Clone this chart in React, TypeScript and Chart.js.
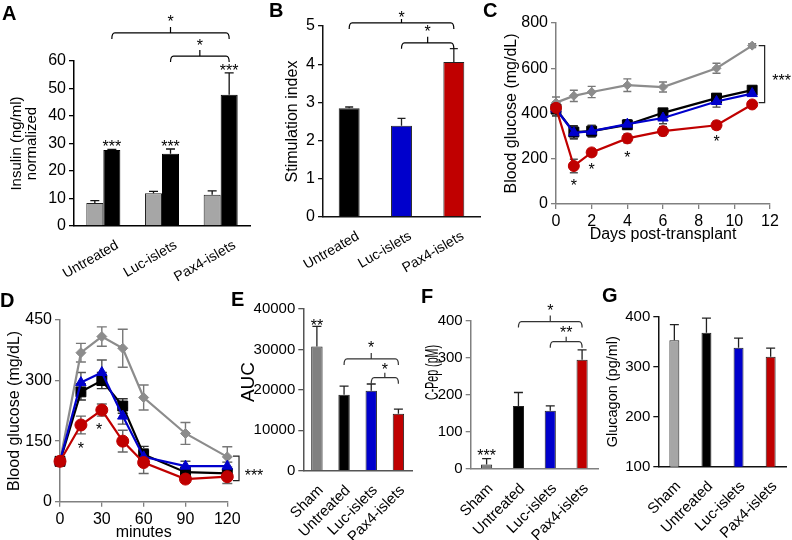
import React, { useEffect, useRef } from 'react';
import { Chart, registerables } from 'chart.js';

Chart.register(...registerables);

const FONT = '"Liberation Sans", Arial, Helvetica, sans-serif';

// ---------------- data ----------------
// Panel A – insulin secretion (low vs high glucose)
const groupsABC = ['Untreated', 'Luc-islets', 'Pax4-islets'];
const insulinLow = [8.4, 11.9, 11.4];
const insulinLowErr = [0.8, 0.7, 1.4];
const insulinHigh = [27.6, 26.3, 47.7];
const insulinHighErr = [0.3, 1.7, 8.0];
const insulinStars = ['***', '***', '***'];
const insulinBrackets = [
  { from: 0, to: 2, level: 70.2, label: '*', gap: 15, notch: 6 },
  { from: 1, to: 2, level: 61.8, label: '*', gap: 14, notch: 6 },
];

// Panel B – stimulation index
const stimIndex = [2.85, 2.39, 4.06];
const stimErr = [0.03, 0.19, 0.35];
const stimBrackets = [
  { from: 0, to: 2, level: 5.08, label: '*', gap: 9.5, notch: 4 },
  { from: 1, to: 2, level: 4.56, label: '*', gap: 15, notch: 6 },
];

// Panel C – blood glucose post-transplant
const daysPost = [0, 1, 2, 4, 6, 9, 11];
const shamC = [448, 478, 495, 525, 517, 600, 700];
const shamCErr = [25, 25, 25, 28, 22, 22, 8];
const untreatedC = [420, 318, 322, 350, 403, 468, 503];
const untreatedCErr = [30, 28, 25, 20, 15, 20, 10];
const lucC = [420, 315, 322, 353, 380, 453, 488];
const lucCErr = [30, 28, 25, 20, 25, 25, 10];
const pax4C = [425, 168, 228, 290, 322, 348, 440];
const pax4CErr = [25, 30, 15, 20, 20, 18, 12];
const starsC = [
  { x: 1, y: 97 },
  { x: 2, y: 168 },
  { x: 4, y: 221 },
  { x: 9, y: 291 },
];
const bracketC = { x: 11.7, y1: 700, y2: 448, label: '***' };

// Panel D – glucose tolerance test
const minutesD = [0, 15, 30, 45, 60, 90, 120];
const shamD = [100, 369, 409, 380, 258, 169, 111];
const shamDErr = [8, 23, 24, 47, 31, 27, 25];
const untreatedD = [100, 272, 300, 237, 117, 73, 70];
const untreatedDErr = [8, 20, 20, 18, 20, 15, 12];
const lucD = [100, 295, 320, 212, 111, 88, 88];
const lucDErr = [8, 25, 31, 20, 20, 12, 10];
const pax4D = [100, 190, 227, 150, 97, 56, 62];
const pax4DErr = [8, 22, 15, 27, 27, 8, 17];
const starsD = [
  { x: 15, y: 140 },
  { x: 28, y: 188 },
];
const bracketD = { x: 128.4, y1: 113, y2: 52, label: '***' };

// Panels E, F, G
const groupsEFG = ['Sham', 'Untreated', 'Luc-islets', 'Pax4-islets'];
const aucValues = [30700, 18800, 19800, 14100];
const aucErr = [5000, 2100, 1650, 1150];
const aucStars = ['**', '', '', ''];
const aucBrackets = [
  { from: 1, to: 3, level: 27650, label: '*', gap: 14.7, notch: 6 },
  { from: 2, to: 3, level: 23020, label: '*', gap: 11.7, notch: 5 },
];
const cpepValues = [12, 170, 157, 294];
const cpepErr = [16, 36, 13, 27];
const cpepStars = ['***', '', '', ''];
const cpepBrackets = [
  { from: 1, to: 3, level: 397, label: '*', gap: 14.4, notch: 6 },
  { from: 2, to: 3, level: 343, label: '**', gap: 12.7, notch: 5 },
];
const glucagonValues = [353, 368, 338, 320];
const glucagonErr = [31, 29, 19, 17];

// ---------------- colours ----------------
const LIGHT_GRAY = '#a6a6a6';
const MID_GRAY = '#808080';
const LINE_GRAY = '#8c8c8c';
const BLUE = '#0000cc';
const RED = '#c00000';
const BLACK = '#000000';

// ---------------- helpers ----------------
function drawErrorBars(chart: any, before: boolean) {
  const ctx = chart.ctx;
  chart.data.datasets.forEach((ds: any, i: number) => {
    if (!ds.errors || !!ds.errBefore !== before) return;
    const meta = chart.getDatasetMeta(i);
    const ys = chart.scales[meta.yAxisID];
    const cap = ds.errCap ?? 8;
    ctx.save();
    ctx.strokeStyle = ds.errColor ?? '#000';
    ctx.lineWidth = ds.errWidth ?? 1.3;
    meta.data.forEach((el: any, j: number) => {
      const raw = ds.data[j];
      const v = typeof raw === 'number' ? raw : raw.y;
      const e = ds.errors[j];
      const x = el.x;
      const top = ys.getPixelForValue(v + e);
      const bottom = ys.getPixelForValue(ds.errBoth ? v - e : v);
      ctx.beginPath();
      ctx.moveTo(x, top);
      ctx.lineTo(x, bottom);
      ctx.moveTo(x - cap / 2, top);
      ctx.lineTo(x + cap / 2, top);
      if (ds.errBoth) {
        ctx.moveTo(x - cap / 2, bottom);
        ctx.lineTo(x + cap / 2, bottom);
      }
      ctx.stroke();
    });
    ctx.restore();
  });
}

const errorBarPlugin = {
  id: 'errorBars',
  beforeDatasetsDraw(chart: any) {
    drawErrorBars(chart, true);
  },
  afterDatasetsDraw(chart: any) {
    drawErrorBars(chart, false);
  },
};

function star(ctx: CanvasRenderingContext2D, text: string, x: number, yc: number, size = 16, color = '#000') {
  if (!text) return;
  ctx.save();
  ctx.font = `${size}px ${FONT}`;
  ctx.fillStyle = color;
  ctx.textAlign = 'center';
  ctx.textBaseline = 'alphabetic';
  ctx.fillText(text, x, yc + 0.57 * size);
  ctx.restore();
}

function hBracket(ctx: CanvasRenderingContext2D, x1: number, x2: number, y: number, notch: number, color = '#000') {
  ctx.save();
  ctx.strokeStyle = color;
  ctx.lineWidth = 1.2;
  ctx.beginPath();
  ctx.moveTo(x1, y + 6);
  ctx.quadraticCurveTo(x1, y, x1 + 3, y);
  ctx.lineTo(x2 - 3, y);
  ctx.quadraticCurveTo(x2, y, x2, y + 6);
  const xm = (x1 + x2) / 2;
  ctx.moveTo(xm, y);
  ctx.lineTo(xm, y - notch);
  ctx.stroke();
  ctx.restore();
}

function vBracket(ctx: CanvasRenderingContext2D, x: number, y1: number, y2: number, color = '#000') {
  ctx.save();
  ctx.strokeStyle = color;
  ctx.lineWidth = 1.2;
  ctx.beginPath();
  ctx.moveTo(x - 6, y1);
  ctx.lineTo(x, y1);
  ctx.lineTo(x, y2);
  ctx.lineTo(x - 6, y2);
  ctx.stroke();
  ctx.restore();
}

function rotatedTitle(ctx: CanvasRenderingContext2D, text: string, x: number, y: number, size: number, squeeze: number) {
  ctx.save();
  ctx.translate(x, y);
  ctx.rotate(-Math.PI / 2);
  ctx.scale(squeeze, 1);
  ctx.font = `${size}px ${FONT}`;
  ctx.fillStyle = '#000';
  ctx.textAlign = 'center';
  ctx.textBaseline = 'middle';
  ctx.fillText(text, 0, 0);
  ctx.restore();
}

function annot(id: string, fn: (chart: any, ctx: CanvasRenderingContext2D) => void) {
  return {
    id,
    afterDraw(chart: any) {
      fn(chart, chart.ctx);
    },
  };
}

const plainTick = (v: any) => String(v);

function yAxis(o: {
  min: number;
  max: number;
  step: number;
  width: number;
  color: string;
  tickSize: number;
  title?: string | string[];
  titleSize?: number;
  titleLH?: number;
}) {
  return {
    type: 'linear',
    position: 'left',
    min: o.min,
    max: o.max,
    ticks: { stepSize: o.step, font: { family: FONT, size: o.tickSize }, color: '#000', padding: 3, callback: plainTick },
    grid: { drawOnChartArea: false, drawTicks: true, tickLength: 5, color: o.color, lineWidth: 1.3 },
    border: { display: true, color: o.color, width: 1.5 },
    title: {
      display: !!o.title,
      text: o.title ?? '',
      font: { family: FONT, size: o.titleSize ?? 16, lineHeight: o.titleLH ?? 1.2 },
      color: '#000',
      padding: 0,
    },
    afterFit: (s: any) => {
      s.width = o.width;
    },
  };
}

function catAxis(o: { height: number; color: string; size: number; rotation: number; labelOffset: number }) {
  return {
    type: 'category',
    grid: { display: false },
    border: { display: true, color: o.color, width: 1.5 },
    ticks: {
      font: { family: FONT, size: o.size },
      color: '#000',
      minRotation: o.rotation,
      maxRotation: o.rotation,
      autoSkip: false,
      padding: 3,
      labelOffset: o.labelOffset,
    },
    afterFit: (s: any) => {
      s.height = o.height;
    },
  };
}

function linAxisX(o: { min: number; max: number; step: number; height: number; color: string; title: string }) {
  return {
    type: 'linear',
    min: o.min,
    max: o.max,
    ticks: { stepSize: o.step, font: { family: FONT, size: 16 }, color: '#000', padding: 3, callback: plainTick },
    grid: { drawOnChartArea: false, drawTicks: true, tickLength: 5, color: o.color, lineWidth: 1.3 },
    border: { display: true, color: o.color, width: 1.5 },
    title: { display: true, text: o.title, font: { family: FONT, size: 16, lineHeight: 1.2 }, color: '#000', padding: 0 },
    afterFit: (s: any) => {
      s.height = o.height;
    },
  };
}

function baseOptions(padding: any, scales: any) {
  return {
    responsive: false,
    maintainAspectRatio: false,
    animation: false,
    events: [],
    layout: { padding },
    plugins: { legend: { display: false }, tooltip: { enabled: false }, title: { display: false } },
    scales,
  };
}

function lineDataset(xs: number[], ys: number[], errs: number[], o: any) {
  return {
    type: 'line',
    data: xs.map((x, i) => ({ x, y: ys[i] })),
    borderColor: o.color,
    backgroundColor: o.color,
    borderWidth: 2.2,
    pointStyle: o.pointStyle,
    pointRadius: o.radius,
    pointBackgroundColor: o.color,
    pointBorderColor: o.color,
    pointBorderWidth: 1,
    tension: 0,
    clip: false,
    order: o.order,
    errors: errs,
    errBoth: true,
    errBefore: true,
    errColor: o.errColor,
    errCap: o.cap,
    errWidth: 1.4,
  };
}

// ---------------- chart configs ----------------
function configA() {
  return {
    type: 'bar',
    data: {
      labels: groupsABC,
      datasets: [
        {
          data: insulinLow,
          backgroundColor: LIGHT_GRAY,
          borderColor: '#222',
          borderWidth: 1,
          errors: insulinLowErr,
          errColor: '#111',
          errCap: 9,
        },
        {
          data: insulinHigh,
          backgroundColor: BLACK,
          borderColor: BLACK,
          borderWidth: 1,
          errors: insulinHighErr,
          errColor: '#111',
          errCap: 9,
        },
      ],
    },
    options: {
      ...baseOptions({ left: 9.5, right: 5, top: 61, bottom: 0 }, {
        x: catAxis({ height: 64, color: '#000', size: 14, rotation: 30, labelOffset: 14 }),
        y: yAxis({
          min: 0, max: 60, step: 10, width: 64.5, color: '#000', tickSize: 16,
          title: ['Insulin (ng/ml)', 'normalized'], titleSize: 15, titleLH: 1.0,
        }),
      }),
      datasets: { bar: { categoryPercentage: 0.58, barPercentage: 1.0 } },
    },
    plugins: [
      errorBarPlugin,
      annot('annotA', (chart, ctx) => {
        const y = chart.scales.y;
        const black = chart.getDatasetMeta(1).data;
        insulinStars.forEach((s, i) => {
          star(ctx, s, black[i].x, y.getPixelForValue(insulinHigh[i] + insulinHighErr[i]) - 6);
        });
        insulinBrackets.forEach((b) => {
          const yy = y.getPixelForValue(b.level);
          hBracket(ctx, black[b.from].x, black[b.to].x, yy, b.notch);
          star(ctx, b.label, (black[b.from].x + black[b.to].x) / 2, yy - b.gap);
        });
      }),
    ],
  };
}

function configB() {
  return {
    type: 'bar',
    data: {
      labels: groupsABC,
      datasets: [
        {
          data: stimIndex,
          backgroundColor: [BLACK, BLUE, RED],
          borderColor: '#222',
          borderWidth: 1,
          errors: stimErr,
          errColor: '#222',
          errCap: 8,
        },
      ],
    },
    options: {
      ...baseOptions({ left: 28.4, right: 25, top: 26, bottom: 0 }, {
        x: catAxis({ height: 73, color: '#111', size: 14, rotation: 30, labelOffset: 9 }),
        y: yAxis({ min: 0, max: 5, step: 1, width: 39.6, color: '#111', tickSize: 16, title: 'Stimulation index', titleSize: 16 }),
      }),
      datasets: { bar: { categoryPercentage: 1.0, barPercentage: 0.4 } },
    },
    plugins: [
      errorBarPlugin,
      annot('annotB', (chart, ctx) => {
        const y = chart.scales.y;
        const bars = chart.getDatasetMeta(0).data;
        stimBrackets.forEach((b) => {
          const yy = y.getPixelForValue(b.level);
          hBracket(ctx, bars[b.from].x, bars[b.to].x, yy, b.notch);
          star(ctx, b.label, (bars[b.from].x + bars[b.to].x) / 2, yy - b.gap);
        });
      }),
    ],
  };
}

function configC() {
  return {
    type: 'line',
    data: {
      datasets: [
        lineDataset(daysPost, shamC, shamCErr, { color: LINE_GRAY, pointStyle: 'rectRot', radius: 4.5, order: 4, errColor: '#777', cap: 8 }),
        lineDataset(daysPost, untreatedC, untreatedCErr, { color: BLACK, pointStyle: 'rect', radius: 7, order: 3, errColor: '#222', cap: 8 }),
        lineDataset(daysPost, lucC, lucCErr, { color: BLUE, pointStyle: 'triangle', radius: 6, order: 2, errColor: '#444', cap: 8 }),
        lineDataset(daysPost, pax4C, pax4CErr, { color: RED, pointStyle: 'circle', radius: 5.5, order: 1, errColor: '#555', cap: 8 }),
      ],
    },
    options: baseOptions({ left: 7.4, right: 22, top: 23, bottom: 45.4 }, {
      x: linAxisX({ min: 0, max: 12, step: 2, height: 40.6, color: MID_GRAY, title: 'Days post-transplant' }),
      y: yAxis({ min: 0, max: 800, step: 200, width: 53.6, color: MID_GRAY, tickSize: 16, title: 'Blood glucose (mg/dL)', titleSize: 16 }),
    }),
    plugins: [
      errorBarPlugin,
      annot('annotC', (chart, ctx) => {
        const xs = chart.scales.x;
        const ys = chart.scales.y;
        starsC.forEach((s) => star(ctx, '*', xs.getPixelForValue(s.x), ys.getPixelForValue(s.y)));
        const bx = xs.getPixelForValue(bracketC.x);
        const y1 = ys.getPixelForValue(bracketC.y1);
        const y2 = ys.getPixelForValue(bracketC.y2);
        vBracket(ctx, bx, y1, y2, '#222');
        star(ctx, bracketC.label, bx + 17, (y1 + y2) / 2 + 3);
      }),
    ],
  };
}

function configD() {
  return {
    type: 'line',
    data: {
      datasets: [
        lineDataset(minutesD, shamD, shamDErr, { color: LINE_GRAY, pointStyle: 'rectRot', radius: 5, order: 4, errColor: '#777', cap: 10 }),
        lineDataset(minutesD, untreatedD, untreatedDErr, { color: BLACK, pointStyle: 'rect', radius: 7, order: 3, errColor: '#333', cap: 10 }),
        lineDataset(minutesD, lucD, lucDErr, { color: BLUE, pointStyle: 'triangle', radius: 6, order: 2, errColor: '#555', cap: 10 }),
        lineDataset(minutesD, pax4D, pax4DErr, { color: RED, pointStyle: 'circle', radius: 6, order: 1, errColor: '#666', cap: 10 }),
      ],
    },
    options: baseOptions({ left: 5.4, right: 37.7, top: 40, bottom: 1.4 }, {
      x: linAxisX({ min: 0, max: 120, step: 30, height: 40.9, color: MID_GRAY, title: 'minutes' }),
      y: yAxis({ min: 0, max: 450, step: 150, width: 54.6, color: MID_GRAY, tickSize: 16, title: 'Blood glucose (mg/dL)', titleSize: 16 }),
    }),
    plugins: [
      errorBarPlugin,
      annot('annotD', (chart, ctx) => {
        const xs = chart.scales.x;
        const ys = chart.scales.y;
        starsD.forEach((s) => star(ctx, '*', xs.getPixelForValue(s.x), ys.getPixelForValue(s.y)));
        const bx = xs.getPixelForValue(bracketD.x);
        const y1 = ys.getPixelForValue(bracketD.y1);
        const y2 = ys.getPixelForValue(bracketD.y2);
        vBracket(ctx, bx, y1, y2, '#222');
        star(ctx, bracketD.label, bx + 15, (y1 + y2) / 2 + 3);
      }),
    ],
  };
}

function groupBarConfig(o: {
  values: number[];
  errs: number[];
  colors: string[];
  padding: any;
  yMin: number;
  yMax: number;
  yStep: number;
  yWidth: number;
  xHeight: number;
  axisColor: string;
  title?: string;
  titleSize?: number;
  barPct: number;
  stars?: string[];
  starOffset?: number;
  brackets?: { from: number; to: number; level: number; label: string; gap: number; notch: number }[];
  extra?: (chart: any, ctx: CanvasRenderingContext2D) => void;
  id: string;
}) {
  return {
    type: 'bar',
    data: {
      labels: groupsEFG,
      datasets: [
        {
          data: o.values,
          backgroundColor: o.colors,
          borderColor: '#222',
          borderWidth: 1,
          errors: o.errs,
          errColor: '#222',
          errCap: 9,
        },
      ],
    },
    options: {
      ...baseOptions(o.padding, {
        x: catAxis({ height: o.xHeight, color: o.axisColor, size: 15, rotation: 45, labelOffset: 4 }),
        y: yAxis({
          min: o.yMin, max: o.yMax, step: o.yStep, width: o.yWidth, color: o.axisColor, tickSize: 15,
          title: o.title, titleSize: o.titleSize,
        }),
      }),
      datasets: { bar: { categoryPercentage: 1.0, barPercentage: o.barPct } },
    },
    plugins: [
      errorBarPlugin,
      annot(o.id, (chart, ctx) => {
        const y = chart.scales.y;
        const bars = chart.getDatasetMeta(0).data;
        (o.stars ?? []).forEach((s, i) => {
          star(ctx, s, bars[i].x, y.getPixelForValue(o.values[i] + o.errs[i]) - (o.starOffset ?? 6));
        });
        (o.brackets ?? []).forEach((b) => {
          const yy = y.getPixelForValue(b.level);
          hBracket(ctx, bars[b.from].x, bars[b.to].x, yy, b.notch, '#333');
          star(ctx, b.label, (bars[b.from].x + bars[b.to].x) / 2, yy - b.gap);
        });
        if (o.extra) o.extra(chart, ctx);
      }),
    ],
  };
}

function configE() {
  return groupBarConfig({
    id: 'annotE',
    values: aucValues,
    errs: aucErr,
    colors: [MID_GRAY, BLACK, BLUE, RED],
    padding: { left: 0, right: 3, top: 29, bottom: 0 },
    yMin: 0,
    yMax: 40000,
    yStep: 10000,
    yWidth: 78.3,
    xHeight: 71.3,
    axisColor: '#555',
    barPct: 0.42,
    stars: aucStars,
    starOffset: 5,
    brackets: aucBrackets,
    extra: (chart, ctx) => {
      const ca = chart.chartArea;
      rotatedTitle(ctx, 'AUC', ca.left - 55, ca.top + 73, 19, 1);
    },
  });
}

function configF() {
  return groupBarConfig({
    id: 'annotF',
    values: cpepValues,
    errs: cpepErr,
    colors: [MID_GRAY, BLACK, BLUE, RED],
    padding: { left: 0, right: 7, top: 40.5, bottom: 0 },
    yMin: 0,
    yMax: 400,
    yStep: 100,
    yWidth: 60.7,
    xHeight: 73,
    axisColor: MID_GRAY,
    barPct: 0.35,
    stars: cpepStars,
    starOffset: 7,
    brackets: cpepBrackets,
    extra: (chart, ctx) => {
      const ca = chart.chartArea;
      rotatedTitle(ctx, 'C-Pep (pM)', ca.left - 38, ca.top + 52, 19, 0.56);
    },
  });
}

function configG() {
  return groupBarConfig({
    id: 'annotG',
    values: glucagonValues,
    errs: glucagonErr,
    colors: [LIGHT_GRAY, BLACK, BLUE, RED],
    padding: { left: 4.6, right: 5.3, top: 36.7, bottom: 0 },
    yMin: 100,
    yMax: 400,
    yStep: 100,
    yWidth: 53.7,
    xHeight: 75.3,
    axisColor: '#111',
    title: 'Glucagon (pg/ml)',
    titleSize: 14.5,
    barPct: 0.31,
  });
}

// ---------------- components ----------------
function Panel(props: { left: number; top: number; width: number; height: number; make: () => any }) {
  const ref = useRef<HTMLCanvasElement>(null);
  useEffect(() => {
    const chart = new Chart(ref.current as HTMLCanvasElement, props.make());
    return () => chart.destroy();
  }, []);
  return (
    <canvas
      ref={ref}
      width={props.width}
      height={props.height}
      style={{ position: 'absolute', left: props.left, top: props.top, width: props.width, height: props.height }}
    />
  );
}

function Letter(props: { text: string; left: number; top: number }) {
  return (
    <div
      style={{
        position: 'absolute',
        left: props.left,
        top: props.top,
        font: `bold 20px ${FONT}`,
        lineHeight: '20px',
        color: '#000',
      }}
    >
      {props.text}
    </div>
  );
}

export default function App() {
  return (
    <div
      style={{
        position: 'absolute',
        left: 0,
        top: 0,
        width: 792,
        height: 540,
        overflow: 'hidden',
        background: '#fff',
      }}
    >
      <Panel left={0} top={0} width={255} height={290} make={configA} />
      <Panel left={255} top={0} width={250} height={290} make={configB} />
      <Panel left={495} top={0} width={297} height={290} make={configC} />
      <Panel left={0} top={280} width={265} height={264} make={configD} />
      <Panel left={225} top={280} width={190} height={262} make={configE} />
      <Panel left={410} top={280} width={195} height={262} make={configF} />
      <Panel left={600} top={280} width={192} height={262} make={configG} />
      <Letter text="A" left={2} top={3} />
      <Letter text="B" left={269} top={0} />
      <Letter text="C" left={483} top={0} />
      <Letter text="D" left={0} top={290} />
      <Letter text="E" left={231} top={289} />
      <Letter text="F" left={421} top={286} />
      <Letter text="G" left={602} top={285} />
    </div>
  );
}
